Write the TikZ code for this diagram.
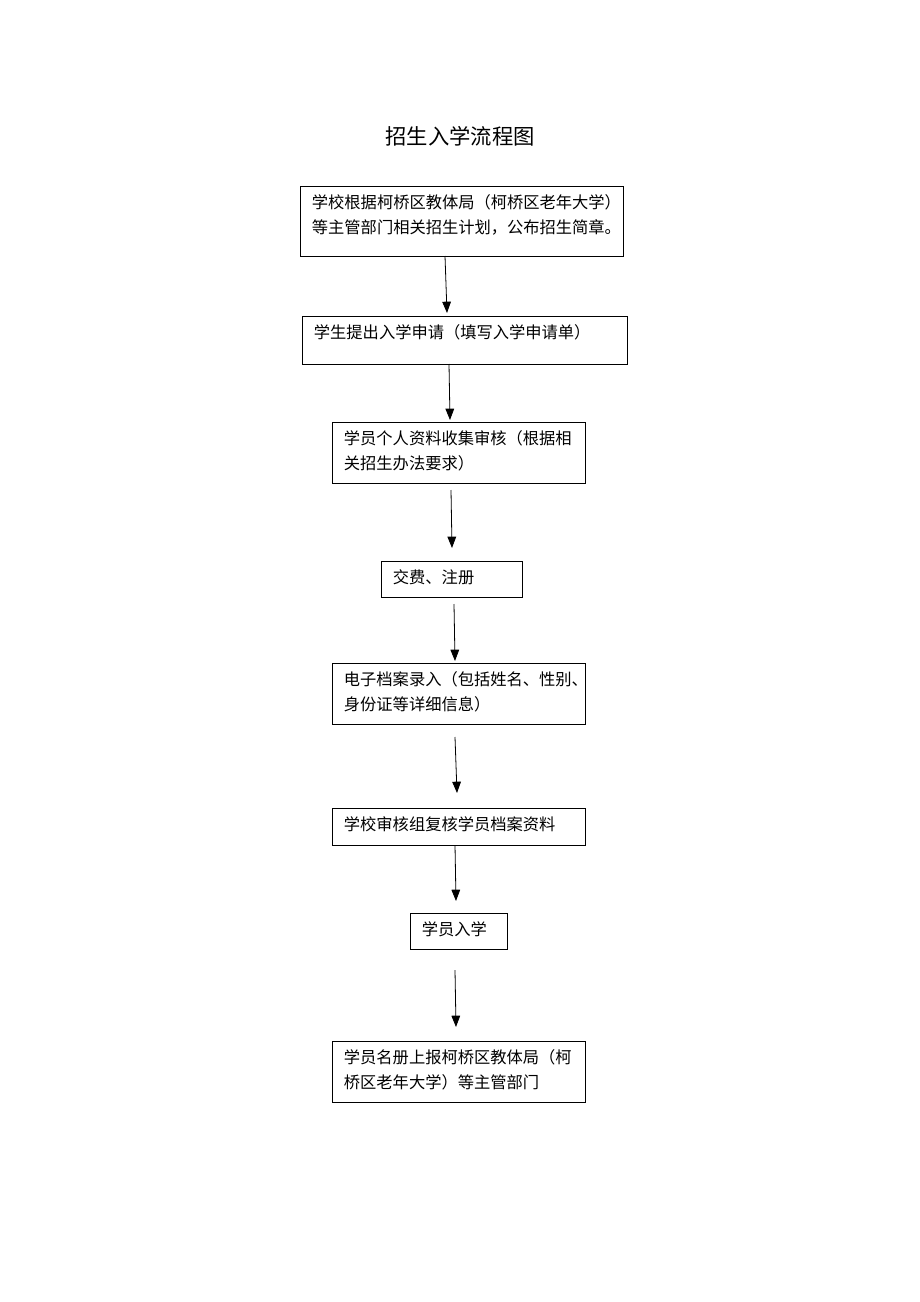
\documentclass[tikz,border=0pt]{standalone}
\usepackage{fontspec}
\setmainfont{Noto Sans CJK SC}
\usepackage{tikz}
\usetikzlibrary{arrows.meta}

% text in a box, set from the top left corner
\newcommand{\flowtext}[3]{\parbox[c][#2][t]{#1}{\vspace*{6pt}#3}}

\begin{document}
\begin{tikzpicture}[
    x=0.75pt, y=-0.75pt,
    box/.style={draw, rectangle, line width=0.9pt, inner xsep=8.5pt, inner ysep=0pt,
                anchor=north west, font=\fontsize{12.2pt}{18.75pt}\selectfont},
    arrow/.style={-{Triangle[length=8.5pt,width=6.5pt]}, line width=0.6pt},
    title/.style={font=\fontsize{16pt}{19pt}\selectfont}
]
\useasboundingbox (0,0) rectangle (920,1302);

\node[title] (heading) at (460,136) {招生入学流程图};

\node[box] (plan) at (300,186) {\flowtext{225.25pt}{52.5pt}{学校根据柯桥区教体局（柯桥区老年大学）\\等主管部门相关招生计划，公布招生简章。}};
\node[box] (apply) at (302,316) {\flowtext{226.75pt}{36pt}{学生提出入学申请（填写入学申请单）}};
\node[box] (collect) at (332,422) {\flowtext{172.75pt}{45.75pt}{学员个人资料收集审核（根据相\\关招生办法要求）}};
\node[box] (pay) at (381,561) {\flowtext{88.75pt}{27pt}{交费、注册}};
\node[box] (archive) at (332,663) {\flowtext{172.75pt}{45.75pt}{电子档案录入（包括姓名、性别、\\身份证等详细信息）}};
\node[box] (review) at (332,808) {\flowtext{172.75pt}{27.75pt}{学校审核组复核学员档案资料}};
\node[box] (admit) at (410,913) {\flowtext{55.75pt}{27pt}{学员入学}};
\node[box] (report) at (332,1041) {\flowtext{172.75pt}{45.75pt}{学员名册上报柯桥区教体局（柯\\桥区老年大学）等主管部门}};

% arrows between the steps
\coordinate (s1) at (445,256);  \coordinate (e1) at (447,313);
\coordinate (s2) at (449,364);  \coordinate (e2) at (450,420);
\coordinate (s3) at (451,490);  \coordinate (e3) at (452,548);
\coordinate (s4) at (454,604);  \coordinate (e4) at (455,661);
\coordinate (s5) at (455,737);  \coordinate (e5) at (457,793);
\coordinate (s6) at (455,845);  \coordinate (e6) at (456,901);
\coordinate (s7) at (455,970);  \coordinate (e7) at (456,1027);

\draw[arrow] (s1) -- (e1);
\draw[arrow] (s2) -- (e2);
\draw[arrow] (s3) -- (e3);
\draw[arrow] (s4) -- (e4);
\draw[arrow] (s5) -- (e5);
\draw[arrow] (s6) -- (e6);
\draw[arrow] (s7) -- (e7);
\end{tikzpicture}
\end{document}
